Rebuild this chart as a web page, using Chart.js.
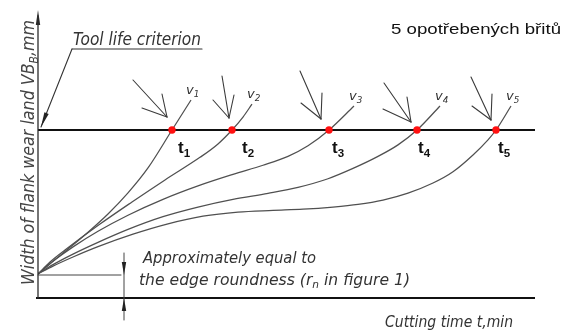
<!DOCTYPE html>
<html>
<head>
<meta charset="utf-8">
<script src="https://cdn.jsdelivr.net/npm/chart.js@4.4.1/dist/chart.umd.min.js"></script>
<style>
  html, body { margin: 0; padding: 0; background: #fff; }
  canvas { display: block; }
</style>
</head>
<body>
<canvas id="wear" width="573" height="334"></canvas>
<script>
// Flank wear VB_B (mm) against cutting time (min) for five cutting speeds v1..v5
const time1 = [0, 3, 6, 10, 14, 18, 22, 26.8, 30.6];
const wear1 = [0.100, 0.153, 0.204, 0.274, 0.350, 0.438, 0.542, 0.700, 0.825];

const time2 = [0, 2.4, 5.4, 12.4, 18.8, 25.4, 32.4, 36.0, 38.8, 41.0, 42.8];
const wear2 = [0.100, 0.150, 0.200, 0.308, 0.400, 0.492, 0.586, 0.642, 0.700, 0.754, 0.808];

const time3 = [0, 3, 7, 12, 18, 25, 32, 39, 45, 50, 54, 58.2, 63.2];
const wear3 = [0.100, 0.153, 0.213, 0.278, 0.345, 0.411, 0.467, 0.515, 0.553, 0.590, 0.634, 0.700, 0.800];

const time4 = [0, 3, 7, 12, 18, 25, 32, 39, 46, 52, 58, 63, 68, 72, 75.8, 80.4];
const wear4 = [0.100, 0.139, 0.183, 0.232, 0.286, 0.339, 0.379, 0.411, 0.436, 0.461, 0.497, 0.540, 0.590, 0.638, 0.700, 0.800];

const time5 = [0, 3, 7, 12, 19, 26, 33, 40, 47, 53, 59, 64, 69, 74, 79, 83, 87, 90, 91.6, 94.6];
const wear5 = [0.100, 0.133, 0.171, 0.214, 0.266, 0.309, 0.341, 0.358, 0.365, 0.370, 0.379, 0.390, 0.408, 0.437, 0.479, 0.526, 0.596, 0.659, 0.700, 0.800];

// Tool life criterion and the resulting tool lives t1..t5
const criterionVB = 0.7;
const edgeVB = 0.1;
const lifeTimes = [26.8, 38.8, 58.2, 75.8, 91.6];
const lifeSubs = ['1', '2', '3', '4', '5'];
const speedSubs = ['1', '2', '3', '4', '5'];

// Axis extents
const timeMax = 100;
const wearMax = 1.2;
const lineEnd = 99.4;

const curves = [[time1, wear1], [time2, wear2], [time3, wear3], [time4, wear4], [time5, wear5]];

// Open arrowheads pointing at each t_i (pixel offsets from the red dot: tip, tail, two barbs)
const pointerShapes = [
  { tip: [-5, -13], tail: [-39, -50], b1: [-30, -22], b2: [-10, -36] },
  { tip: [-3, -12], tail: [-10, -54], b1: [-19, -30], b2: [2, -35] },
  { tip: [-8, -11], tail: [-29, -59], b1: [-28, -27], b2: [-7, -37] },
  { tip: [-6, -8],  tail: [-33, -47], b1: [-34, -21], b2: [-10, -33] },
  { tip: [-5, -10], tail: [-25, -53], b1: [-24, -24], b2: [-4, -36] }
];
const lifeLabelDx = [6, 10, 3, 1, 2];

const DRAFT = '"DejaVu Sans", "Liberation Sans", sans-serif';
const PLAIN = '"Liberation Sans", Arial, sans-serif';

// Writes a run of text pieces (some as subscripts), optionally squeezed to a given width
function richText(ctx, parts, x, y, opts) {
  const { size, family, style = 'normal', weight = 'normal', width = null, rotate = false, color = '#222' } = opts;
  const subSize = size * 0.68;
  ctx.save();
  ctx.translate(x, y);
  if (rotate) ctx.rotate(-Math.PI / 2);
  ctx.fillStyle = color;
  ctx.textBaseline = 'alphabetic';
  ctx.textAlign = 'left';
  const fontOf = (sub) => `${style} ${weight} ${sub ? subSize : size}px ${family}`;
  let total = 0;
  const widths = parts.map(([t, sub]) => {
    ctx.font = fontOf(sub);
    const w = ctx.measureText(t).width;
    total += w;
    return w;
  });
  if (width) ctx.scale(width / total, 1);
  let cx = 0;
  parts.forEach(([t, sub], i) => {
    ctx.font = fontOf(sub);
    ctx.fillText(t, cx, sub ? size * 0.22 : 0);
    cx += widths[i];
  });
  ctx.restore();
}

function seg(ctx, x1, y1, x2, y2) {
  ctx.beginPath();
  ctx.moveTo(x1, y1);
  ctx.lineTo(x2, y2);
  ctx.stroke();
}

// Slim filled arrowhead with its tip at (tx, ty), coming from (fx, fy)
function solidHead(ctx, tx, ty, fx, fy, len, half) {
  const a = Math.atan2(ty - fy, tx - fx);
  const bx = tx - len * Math.cos(a), by = ty - len * Math.sin(a);
  const nx = -Math.sin(a) * half, ny = Math.cos(a) * half;
  ctx.beginPath();
  ctx.moveTo(tx, ty);
  ctx.lineTo(bx + nx, by + ny);
  ctx.lineTo(bx - nx, by - ny);
  ctx.closePath();
  ctx.fill();
}

const annotations = {
  id: 'annotations',
  afterDatasetsDraw(chart) {
    const { ctx, scales: { x, y } } = chart;
    const X = (v) => x.getPixelForValue(v);
    const Y = (v) => y.getPixelForValue(v);
    ctx.save();
    ctx.lineCap = 'round';

    // Vertical axis with arrow
    const ax = X(0);
    ctx.strokeStyle = '#2a2a2a';
    ctx.fillStyle = '#2a2a2a';
    ctx.lineWidth = 1.3;
    seg(ctx, ax, Y(0), ax, Y(wearMax) + 6);
    solidHead(ctx, ax, Y(wearMax), ax, Y(wearMax) + 20, 15, 2.2);

    // Leader from "Tool life criterion" down to the criterion line
    ctx.lineWidth = 1.1;
    ctx.strokeStyle = '#333';
    ctx.fillStyle = '#222';
    seg(ctx, 72, 49, 202, 49);
    seg(ctx, 72, 49, ax + 3, Y(criterionVB) - 3);
    solidHead(ctx, ax + 3, Y(criterionVB) - 3, 72, 49, 15, 2.3);

    // Pointers onto each tool life point
    ctx.strokeStyle = '#3a3a3a';
    ctx.lineWidth = 1.1;
    lifeTimes.forEach((t, i) => {
      const px = X(t), py = Y(criterionVB);
      const s = pointerShapes[i];
      const tx = px + s.tip[0], ty = py + s.tip[1];
      seg(ctx, px + s.tail[0], py + s.tail[1], tx, ty);
      seg(ctx, px + s.b1[0], py + s.b1[1], tx, ty);
      seg(ctx, px + s.b2[0], py + s.b2[1], tx, ty);
    });

    // Edge roundness dimension
    const yEdge = Y(edgeVB) + 1, yBase = Y(0);
    const dimX = 124;
    ctx.strokeStyle = '#444';
    ctx.fillStyle = '#222';
    ctx.lineWidth = 1;
    seg(ctx, ax, yEdge, dimX - 3, yEdge);
    seg(ctx, dimX, yEdge - 22, dimX, yBase + 22);
    solidHead(ctx, dimX, yEdge, dimX, yEdge - 20, 13, 2.2);
    solidHead(ctx, dimX, yBase, dimX, yBase + 20, 13, 2.2);

    // Tool life labels t1..t5
    lifeTimes.forEach((t, i) => {
      richText(ctx, [['t', false], [lifeSubs[i], true]], X(t) + lifeLabelDx[i], Y(criterionVB) + 23,
        { size: 17, family: PLAIN, weight: 'bold', color: '#111' });
    });

    // Speed labels at the upper end of each curve
    curves.forEach(([tt, ww], i) => {
      const ex = X(tt[tt.length - 1]), ey = Y(ww[ww.length - 1]);
      richText(ctx, [['v', false], [speedSubs[i], true]], ex - 5, ey - 6,
        { size: 13, family: DRAFT, style: 'italic', color: '#333' });
    });

    // Captions
    richText(ctx, [['Tool life criterion', false]], 73, 45,
      { size: 17, family: DRAFT, style: 'italic', width: 128, color: '#333' });
    richText(ctx, [['5 opotřebených břitů', false]], 391, 34,
      { size: 15, family: PLAIN, width: 170, color: '#111' });
    richText(ctx, [['Width of flank wear land VB', false], ['B', true], [',mm', false]], 34, 285,
      { size: 17, family: DRAFT, style: 'italic', width: 265, rotate: true, color: '#444' });
    richText(ctx, [['Approximately equal to', false]], 143, 263,
      { size: 15, family: DRAFT, style: 'italic', width: 173, color: '#333' });
    richText(ctx, [['the edge roundness (r', false], ['n', true], [' in figure 1)', false]], 139, 285,
      { size: 15, family: DRAFT, style: 'italic', width: 271, color: '#333' });
    richText(ctx, [['Cutting time t,min', false]], 385, 327,
      { size: 15, family: DRAFT, style: 'italic', width: 128, color: '#333' });

    ctx.restore();
  }
};

const datasets = [
  {
    type: 'scatter',
    data: lifeTimes.map((t) => ({ x: t, y: criterionVB })),
    pointRadius: 3.7,
    pointHoverRadius: 3.7,
    backgroundColor: '#ff1010',
    borderWidth: 0,
    order: 0
  },
  ...curves.map(([tt, ww]) => ({
    type: 'line',
    data: tt.map((t, i) => ({ x: t, y: ww[i] })),
    borderColor: '#505050',
    borderWidth: 1.25,
    pointRadius: 0,
    fill: false,
    cubicInterpolationMode: 'monotone',
    order: 2
  })),
  {
    type: 'line',
    data: [{ x: 0, y: criterionVB }, { x: lineEnd, y: criterionVB }],
    borderColor: '#111',
    borderWidth: 2.2,
    pointRadius: 0,
    order: 1
  },
  {
    type: 'line',
    data: [{ x: -0.4, y: 0 }, { x: lineEnd, y: 0 }],
    borderColor: '#111',
    borderWidth: 2.2,
    pointRadius: 0,
    clip: false,
    order: 1
  }
];

new Chart(document.getElementById('wear'), {
  type: 'line',
  data: { datasets },
  options: {
    responsive: false,
    animation: false,
    events: [],
    layout: { padding: { left: 38, right: 35, top: 10, bottom: 36 } },
    plugins: { legend: { display: false }, tooltip: { enabled: false } },
    scales: {
      x: { type: 'linear', min: 0, max: timeMax, display: false },
      y: { type: 'linear', min: 0, max: wearMax, display: false }
    }
  },
  plugins: [annotations]
});
</script>
</body>
</html>
